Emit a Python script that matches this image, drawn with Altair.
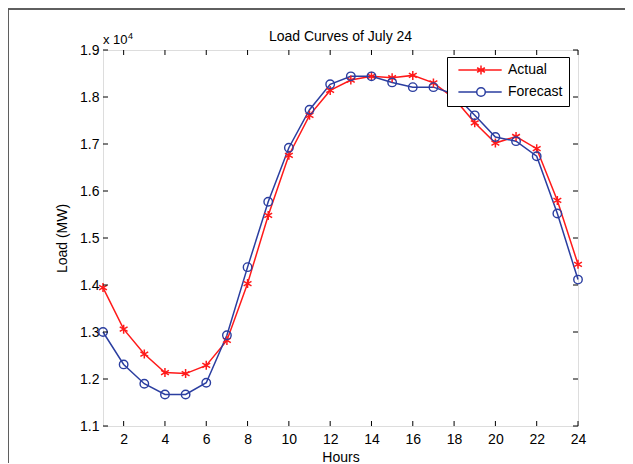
import altair as alt
import pandas as pd

# ---- data (load in MW) ----
hours = [1, 2, 3, 4, 5, 6, 7, 8, 9, 10, 11, 12, 13, 14, 15, 16, 17, 18, 19, 20, 21, 22, 23, 24]
actual = [13945, 13060, 12530, 12136, 12115, 12290, 12820, 14030, 15480, 16760, 17610, 18140,
          18360, 18440, 18410, 18460, 18300, 17970, 17450, 17020, 17160, 16900, 15800, 14440]
forecast = [13000, 12310, 11900, 11670, 11670, 11920, 12930, 14380, 15770, 16920, 17730, 18270,
            18440, 18440, 18310, 18210, 18210, 18060, 17610, 17150, 17060, 16740, 15520, 14115]
series_names = ["Actual", "Forecast"]
x_ticks = [2, 4, 6, 8, 10, 12, 14, 16, 18, 20, 22, 24]
y_ticks = [1.1, 1.2, 1.3, 1.4, 1.5, 1.6, 1.7, 1.8, 1.9]
exp_text = ["x 10", "4"]
title_text = ["Load Curves of July 24"]

RED = "#ff1a1a"
BLUE = "#2b3ea0"
FONT = "Liberation Sans"
W, H = 475, 376

AST = "M0,-1L0,1M-0.87,-0.5L0.87,0.5M-0.87,0.5L0.87,-0.5"
LEG_A = ("M-0.32,0L8.34,0M4.2,-0.9L4.2,0.9M3.42,-0.45L4.98,0.45M3.42,0.45L4.98,-0.45")
LEG_F = ("M-0.32,0L3.34,0M5.06,0L8.34,0"
         "M3.34,0A0.86,0.86,0,1,0,5.06,0A0.86,0.86,0,1,0,3.34,0")

df = pd.DataFrame({
    "hour": hours * 2,
    "series": [series_names[0]] * len(hours) + [series_names[1]] * len(hours),
    "load": actual + forecast,
})

xs = alt.Scale(domain=[1, 24], nice=False, zero=False)
ys = alt.Scale(domain=[1.1, 1.9], nice=False, zero=False)
X = alt.X("hour:Q", scale=xs, axis=alt.Axis(
    values=x_ticks, title="Hours", domain=False, ticks=False, tickSize=0, grid=False,
    labelPadding=6, titlePadding=4, labelFontSize=14, titleFontSize=14,
    labelFont=FONT, titleFont=FONT, labelColor="black", titleColor="black",
    titleFontWeight="normal", labelFlush=False))
Y = alt.Y("y:Q", scale=ys, axis=alt.Axis(
    values=y_ticks, format=".1f", title="Load (MW)", domain=False, ticks=False, tickSize=0,
    grid=False, labelPadding=4, titlePadding=10, labelFontSize=14, titleFontSize=14,
    labelFont=FONT, titleFont=FONT, labelColor="black", titleColor="black",
    titleFontWeight="normal", labelFlush=False))

base = alt.Chart(df).transform_calculate(y="datum.load / 10000")
act = base.transform_filter(alt.datum.series == series_names[0])
fc = base.transform_filter(alt.datum.series == series_names[1])

line_a = act.mark_line(color=RED, strokeWidth=1.5).encode(x=X, y=Y)
line_f = fc.mark_line(color=BLUE, strokeWidth=1.5).encode(x=X, y=Y)
pts_a = act.mark_point(shape=AST, size=81, filled=False, color=RED, strokeWidth=1.5,
                       opacity=1).encode(x=X, y=Y)
pts_f = fc.mark_point(shape="circle", size=72, filled=False, color=BLUE, strokeWidth=1.4,
                      opacity=1).encode(x=X, y=Y)

leg = alt.Legend(title=None, orient="none", legendX=344, legendY=7,
                 strokeColor="black", fillColor="white", padding=6,
                 labelFontSize=14, labelFont=FONT, labelColor="black",
                 symbolSize=100, symbolStrokeWidth=1.5, symbolOpacity=1,
                 labelOffset=41, rowPadding=6, cornerRadius=0)
legend_layer = base.mark_point(opacity=0, filled=False).encode(
    x=X, y=Y,
    color=alt.Color("series:N", scale=alt.Scale(domain=series_names, range=[RED, BLUE]), legend=leg),
    shape=alt.Shape("series:N", scale=alt.Scale(domain=series_names, range=[LEG_A, LEG_F]), legend=leg),
)

xt = alt.Chart(pd.DataFrame({"hour": x_ticks}))
yt = alt.Chart(pd.DataFrame({"y": y_ticks}))
tick_b = xt.mark_rule(color="black", strokeWidth=1).encode(x=X, y=alt.value(H), y2=alt.value(H - 5))
tick_t = xt.mark_rule(color="black", strokeWidth=1).encode(x=X, y=alt.value(0), y2=alt.value(5))
tick_l = yt.mark_rule(color="black", strokeWidth=1).encode(y=Y, x=alt.value(0), x2=alt.value(5))
tick_r = yt.mark_rule(color="black", strokeWidth=1).encode(y=Y, x=alt.value(W), x2=alt.value(W - 5))

ed = pd.DataFrame({"t": exp_text})
exp_main = alt.Chart(ed).transform_filter(alt.datum.t == exp_text[0]).mark_text(
    align="left", baseline="alphabetic", fontSize=13, font=FONT, color="black"
).encode(x=alt.value(0), y=alt.value(-6), text="t:N")
exp_sup = alt.Chart(ed).transform_filter(alt.datum.t == exp_text[1]).mark_text(
    align="left", baseline="alphabetic", fontSize=9, font=FONT, color="black"
).encode(x=alt.value(25), y=alt.value(-11), text="t:N")

title_mark = alt.Chart(pd.DataFrame({"t": title_text})).mark_text(
    align="center", baseline="alphabetic", fontSize=14, font=FONT, color="black"
).encode(x=alt.value(W / 2), y=alt.value(-9.5), text="t:N")

frame_l = alt.Chart(ed).mark_rule(color="#555555", strokeWidth=1.5).encode(
    x=alt.value(-95), y=alt.value(-41), y2=alt.value(420))
frame_t = alt.Chart(ed).mark_rule(color="#555555", strokeWidth=1.5).encode(
    x=alt.value(-95), x2=alt.value(530), y=alt.value(-41))

chart = alt.layer(
    frame_l, frame_t,
    line_a, line_f, pts_a, pts_f, legend_layer,
    tick_b, tick_t, tick_l, tick_r, exp_main, exp_sup, title_mark,
).properties(
    width=W, height=H,
    autosize=alt.AutoSizeParams(type="none"),
    padding={"left": 95, "top": 42, "right": 47, "bottom": 37},
).configure_view(stroke="black", strokeWidth=1).configure(background="white")

chart.save("out.html", embed_options={"renderer": "svg", "actions": False})
